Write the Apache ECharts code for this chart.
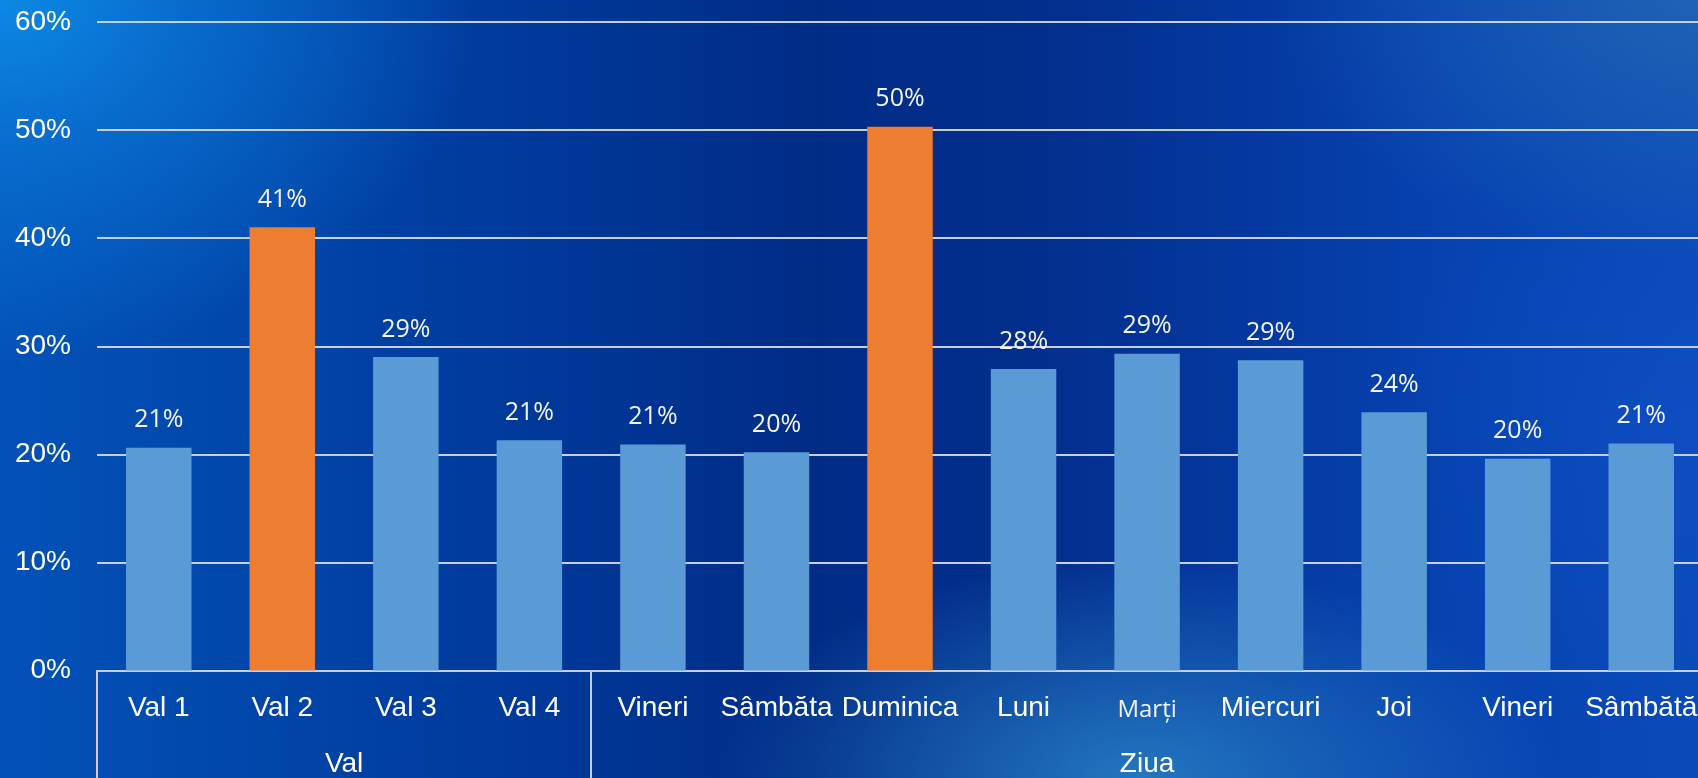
<!DOCTYPE html>
<html>
<head>
<meta charset="utf-8">
<script src="https://cdn.jsdelivr.net/npm/echarts@6/dist/echarts.min.js"></script>
<style>
  html, body { margin: 0; padding: 0; }
  #chart {
    width: 1698px; height: 778px;
    background:
      radial-gradient(ellipse 480px 360px at 0% 0%, rgba(12,136,228,1) 0%, rgba(10,120,215,0.7) 40%, rgba(10,110,210,0) 100%),
      radial-gradient(ellipse 420px 220px at 67% 100%, rgba(40,130,200,0.85) 0%, rgba(40,130,200,0) 100%),
      radial-gradient(ellipse 420px 260px at 100% 0%, rgba(35,105,180,0.8) 0%, rgba(35,105,180,0) 100%),
      radial-gradient(ellipse 300px 300px at 100% 55%, rgba(15,80,200,0.6) 0%, rgba(15,80,200,0) 100%),
      linear-gradient(90deg, #0352b8 0%, #003a9c 30%, #012c86 48%, #032f8e 62%, #0642b0 85%, #0a4ab8 100%);
  }
</style>
</head>
<body>
<div id="chart"></div>
<script>
// ---- data ----
const categories = ['Val 1', 'Val 2', 'Val 3', 'Val 4', 'Vineri', 'Sâmbăta', 'Duminica', 'Luni', 'Marți', 'Miercuri', 'Joi', 'Vineri', 'Sâmbătă'];
const values = [20.6, 41.0, 29.0, 21.3, 20.9, 20.2, 50.3, 27.9, 29.3, 28.7, 23.9, 19.6, 21.0];
const groups = ['Val', 'Ziua'];
const groupSizes = [4, 9];
const yTicks = [0, 10, 20, 30, 40, 50, 60];

// ---- derived from data ----
const boundaries = [0];
groupSizes.forEach(s => boundaries.push(boundaries[boundaries.length - 1] + s));
const groupCenters = groupSizes.map((s, i) => boundaries[i] + s / 2);
const groupOf = categories.map((c, i) => boundaries.findIndex((b, k) => i >= b && i < boundaries[k + 1]));
const groupMax = groupSizes.map((s, g) => Math.max(...values.slice(boundaries[g], boundaries[g + 1])));

const LIGHT = '#5b9bd5', ORANGE = '#ed7d31';
const GRID_COLOR = '#c9ced8';

const chart = echarts.init(document.getElementById('chart'), null, { renderer: 'canvas' });
chart.setOption({
  backgroundColor: 'transparent',
  animation: false,
  grid: { left: 97, top: 22, width: 1606, bottom: 107.5, containLabel: false, outerBoundsMode: 'none' },
  xAxis: [
    {
      type: 'category',
      data: categories,
      axisLine: { show: true, lineStyle: { color: GRID_COLOR, width: 2 } },
      axisTick: { show: false },
      axisLabel: {
        interval: 0,
        margin: 24,
        color: '#ffffff',
        fontFamily: 'Liberation Sans, Arial, sans-serif',
        fontSize: 28,
        hideOverlap: false,
        formatter: v => v === 'Marți' ? '{m|' + v + '}' : v,
        rich: { m: { fontFamily: 'Open Sans', fontWeight: 400, fontSize: 24, color: '#f2f2f2', padding: [4, 0, 0, 0] } }
      },
      splitLine: { show: false }
    },
    {
      type: 'value',
      position: 'bottom',
      min: 0,
      max: categories.length,
      axisLine: { show: false },
      splitLine: { show: false },
      axisTick: { show: true, customValues: boundaries, length: 120, lineStyle: { color: GRID_COLOR, width: 2 } },
      axisLabel: {
        customValues: groupCenters,
        margin: 80,
        color: '#ffffff',
        fontFamily: 'Liberation Sans, Arial, sans-serif',
        fontSize: 28,
        formatter: v => groups[groupCenters.indexOf(v)] || ''
      }
    }
  ],
  yAxis: {
    type: 'value',
    min: yTicks[0],
    max: yTicks[yTicks.length - 1],
    interval: yTicks[1] - yTicks[0],
    axisLine: { show: false },
    axisTick: { show: false },
    axisLabel: {
      margin: 26,
      color: '#ffffff',
      fontFamily: 'Liberation Sans, Arial, sans-serif',
      fontSize: 28,
      formatter: '{value}%'
    },
    splitLine: { show: true, lineStyle: { color: GRID_COLOR, width: 2 } }
  },
  series: [{
    type: 'bar',
    xAxisIndex: 0,
    data: values,
    barCategoryGap: '47%',
    itemStyle: {
      color: p => values[p.dataIndex] === groupMax[groupOf[p.dataIndex]] ? ORANGE : LIGHT
    },
    label: {
      show: true,
      position: 'top',
      distance: 15,
      color: '#f4f4f4',
      fontFamily: 'Open Sans',
      fontWeight: 400,
      fontSize: 25,
      formatter: p => Math.round(p.value) + '%'
    }
  }]
});
</script>
</body>
</html>
